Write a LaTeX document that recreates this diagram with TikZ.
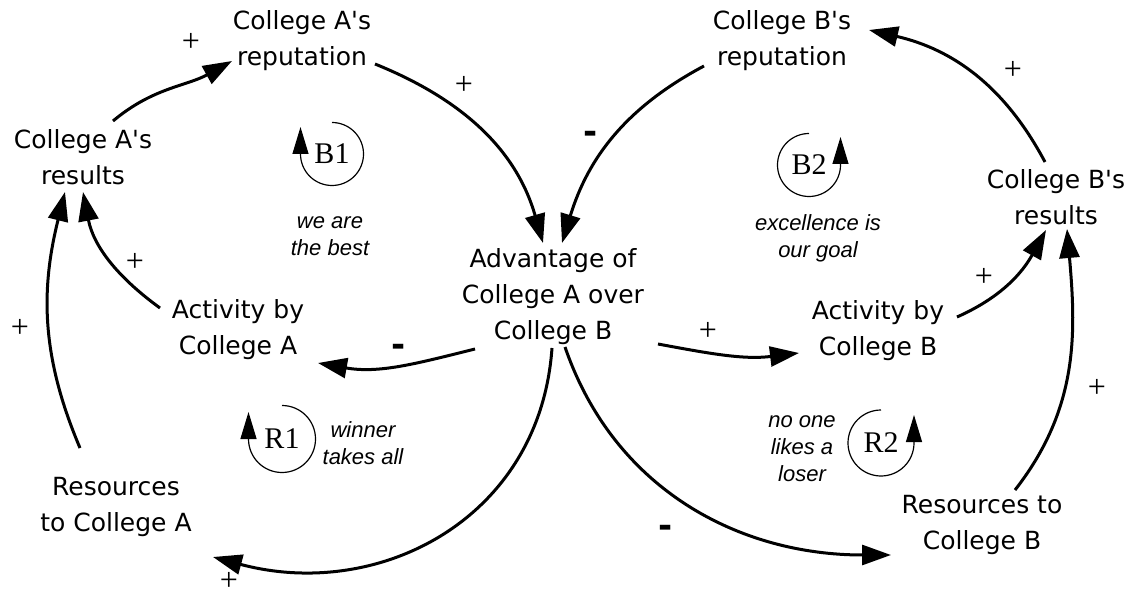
\documentclass[tikz,border=0pt]{standalone}
\usepackage{fontspec}
\setmainfont{DejaVu Sans}
\newfontfamily\noteface{Liberation Sans}
\newfontfamily\loopface{Liberation Serif}
\usetikzlibrary{arrows.meta}
\newcommand{\apos}{\textquotesingle}
\begin{document}
\begin{tikzpicture}[x=1pt,y=1pt,
  var/.style={align=center,font=\fontsize{25}{36}\selectfont,inner sep=0pt},
  link/.style={line width=3pt,-{Triangle[length=29pt,width=20pt]}},
  pol/.style={font=\loopface\fontsize{32}{32}\selectfont,inner sep=0pt},
  neg/.style={font=\bfseries\fontsize{34}{34}\selectfont,inner sep=0pt},
  note/.style={align=center,font=\noteface\itshape\fontsize{22}{27}\selectfont,inner sep=0pt},
  loopname/.style={font=\loopface\fontsize{30}{30}\selectfont,inner sep=0pt},
  loopline/.style={line width=1.2pt,-{Triangle[length=27pt,width=16pt]}}]
\useasboundingbox (0,0) rectangle (1133,598);
% variables
\node[var] (repA) at (302,557) {College A\apos s\\reputation};
\node[var] (resA) at (83,441) {College A\apos s\\results};
\node[var] (repB) at (782,557) {College B\apos s\\reputation};
\node[var] (resB) at (1056,401) {College B\apos s\\results};
\node[var] (adv) at (553,301) {Advantage of\\College A over\\College B};
\node[var] (actA) at (238,268) {Activity by\\College A};
\node[var] (actB) at (878,267) {Activity by\\College B};
\node[var] (resoA) at (116,91) {Resources\\to College A};
\node[var] (resoB) at (982,73) {Resources to\\College B};
% links
\draw[link] ([shift={(30,36)}]resA.center) to[out=40,in=-151] ([shift={(-70,-20)}]repA.center);
\draw[link] ([shift={(73,-23)}]repA.center) to[out=-22,in=106] ([shift={(-10,54)}]adv.center);
\draw[link] ([shift={(-78,-25)}]repB.center) to[out=-152,in=73] ([shift={(9,54)}]adv.center);
\draw[link] ([shift={(-11,35)}]resB.center) to[out=118,in=-13] ([shift={(87,11)}]repB.center);
\draw[link] ([shift={(-78,22)}]actA.center) to[out=144,in=-79] ([shift={(0,-35)}]resA.center);
\draw[link] ([shift={(-36,59)}]resoA.center) to[out=113,in=-104] ([shift={(-18,-35)}]resA.center);
\draw[link] ([shift={(-78,-52)}]adv.center) to[out=-166,in=-10] ([shift={(80,-33)}]actA.center);
\draw[link] ([shift={(105,-47)}]adv.center) to[out=-10.6,in=-173] ([shift={(-79,-22)}]actB.center);
\draw[link] ([shift={(79,14)}]actB.center) to[out=24,in=-119] ([shift={(-10,-33)}]resB.center);
\draw[link] ([shift={(33,35)}]resoB.center) to[out=52,in=-85] ([shift={(11,-32)}]resB.center);
\draw[link] ([shift={(-1,-51)}]adv.center) to[out=-94,in=-15,looseness=1.1] ([shift={(97,-50)}]resoA.center);
\draw[link] ([shift={(12,-50)}]adv.center) to[out=-71,in=180] ([shift={(-91,-30)}]resoB.center);
% polarities
\node[pol] (p1) at (191,556) {+};
\node[pol] (p2) at (464,513) {+};
\node[neg] (p3) at (591,461) {-};
\node[pol] (p4) at (1013,528) {+};
\node[pol] (p5) at (135,336) {+};
\node[pol] (p6) at (20,270) {+};
\node[neg] (p7) at (399,248) {-};
\node[pol] (p8) at (708,267) {+};
\node[pol] (p9) at (984,321) {+};
\node[pol] (p10) at (1097,210) {+};
\node[pol] (p11) at (229,17) {+};
\node[neg] (p12) at (666,67) {-};
% loops
\node[loopname] (b1) at (332,444) {B1};
\draw[loopline] ([shift={(0,31.5)}]b1.center) arc[start angle=90,end angle=-180,radius=31.5] -- ++(0,27);
\node[loopname] (b2) at (809,433) {B2};
\draw[loopline] ([shift={(0,31.5)}]b2.center) arc[start angle=90,end angle=360,radius=31.5] -- ++(0,28);
\node[loopname] (r1) at (282,159) {R1};
\draw[loopline] ([shift={(0,33.5)}]r1.center) arc[start angle=90,end angle=-180,radius=33.5] -- ++(0,27);
\node[loopname] (r2) at (881,155) {R2};
\draw[loopline] ([shift={(0,33)}]r2.center) arc[start angle=90,end angle=360,radius=33] -- ++(0,28);
% loop notes
\node[note] (n1) at (330,362) {we are\\the best};
\node[note] (n2) at (818,360) {excellence is\\our goal};
\node[note] (n3) at (363,155) {winner\\takes all};
\node[note] (n4) at (802,149) {no one\\likes a\\loser};
\end{tikzpicture}
\end{document}
